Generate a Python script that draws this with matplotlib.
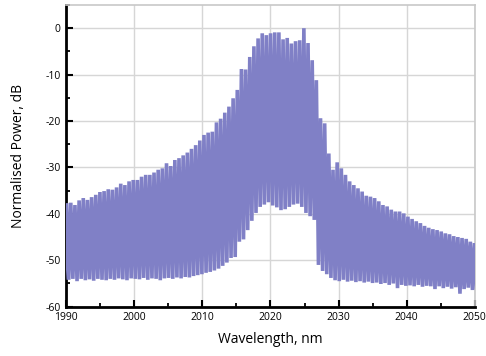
import numpy as np
import matplotlib
matplotlib.use("Agg")
import matplotlib.pyplot as plt
from matplotlib.ticker import MultipleLocator

# ---- data (one value per comb line) ----
first_peak_nm = 1990.05
peak_spacing_nm = 0.6115

peak_tops_db = [
    -37.7, -37.6, -38.1, -37.1, -36.6, -37.0, -36.4, -35.9, -35.3, -35.1,
    -34.7, -34.8, -34.3, -33.5, -33.8, -33.0, -32.7, -32.7, -32.0, -31.6,
    -31.6, -31.1, -30.5, -30.2, -29.1, -29.7, -28.4,
    -28.0, -27.4, -26.8, -26.0, -25.2, -24.2, -23.0, -22.5, -22.3,
    -20.3, -19.5, -18.2, -16.9, -15.1, -13.3, -8.8, -8.9,
    -6.2, -3.9, -2.2, -1.1, -1.5, -1.1, -0.9, -0.9, -2.4, -2.1,
    -3.3, -2.8, -2.6, 0.0, -3.2, -6.9, -11.2, -19.4, -20.5,
    -27.0, -30.5, -28.9, -30.2, -31.6, -33.0, -33.8, -34.5, -35.2, -36.1,
    -36.3, -36.6, -37.3, -38.1, -38.4, -39.1, -39.5, -39.5, -39.9,
    -40.6, -41.1, -41.6, -42.0, -42.6, -43.0, -43.3, -43.5, -43.8, -44.2,
    -44.4, -44.8, -45.0, -45.2, -45.4, -46.0, -46.3,
]

valley_db = [
    -54.2, -54.0, -54.5, -54.0, -54.3, -54.1, -54.4, -54.0, -54.2, -54.3,
    -54.0, -54.2, -53.9, -54.1, -54.3, -53.9, -54.0, -54.1, -53.8, -54.2, -53.9,
    -54.0, -54.3, -53.9, -53.8, -54.0, -53.7, -53.9, -53.6, -53.7, -53.4,
    -53.2, -53.0, -52.7, -52.5, -52.2, -51.8, -51.2, -50.5, -49.5, -49.3, -46.0,
    -45.5, -43.5, -41.5, -39.8, -38.5, -38.0, -37.5, -38.2, -38.6, -39.2,
    -39.0, -38.5, -38.0, -37.8, -38.5, -39.8, -40.5, -41.3,
    -51.0, -52.3, -53.0, -53.8, -54.3, -54.5, -54.2, -54.6, -54.4, -54.7,
    -54.5, -54.8, -54.6, -54.9, -54.8, -55.1, -54.9, -55.3, -55.0, -56.0,
    -55.3, -55.5, -55.4, -55.6, -55.3, -55.7, -55.5, -55.6, -56.2, -55.6,
    -56.0, -55.7, -56.1, -55.8, -57.2, -56.2, -55.9, -56.4, -56.3,
]

x_ticks = [1990, 2000, 2010, 2020, 2030, 2040, 2050]
y_ticks = [0, -10, -20, -30, -40, -50, -60]

# ---- build the zig-zag trace (peak, valley, peak, ...) ----
peak_wl = first_peak_nm + peak_spacing_nm * np.arange(len(peak_tops_db))
xs = [peak_wl[0] - peak_spacing_nm / 2]
ys = [valley_db[0]]
for w, t, v in zip(peak_wl, peak_tops_db, valley_db):
    xs += [w, w + peak_spacing_nm / 2]
    ys += [t, v]

plt.rcParams["axes.unicode_minus"] = False
plt.rcParams["font.family"] = ["Open Sans", "DejaVu Sans"]

fig = plt.figure(figsize=(4.86, 3.56), dpi=100)
ax = fig.add_axes([0.1364, 0.1385, 0.8403, 0.8475])

ax.plot(xs, ys, color="#8080c6", lw=2.6, solid_joinstyle="bevel",
        solid_capstyle="butt", zorder=3)

ax.set_xlim(1990, 2050)
ax.set_ylim(-60, 5)
ax.set_xticks(x_ticks)
ax.set_yticks(y_ticks)
ax.xaxis.set_minor_locator(MultipleLocator(5))
ax.yaxis.set_minor_locator(MultipleLocator(5))
ax.grid(True, which="major", color="#d6d6d6", lw=1.0, zorder=0)
ax.set_axisbelow(True)

for s in ("left", "bottom"):
    ax.spines[s].set_linewidth(2.0)
    ax.spines[s].set_color("black")
for s in ("top", "right"):
    ax.spines[s].set_linewidth(1.2)
    ax.spines[s].set_color("#c8c8c8")

ax.tick_params(which="major", direction="in", length=5, width=1.5,
               labelsize=7.5, color="black", pad=4)
ax.tick_params(which="minor", direction="in", length=3, width=1.3, color="black")
ax.tick_params(top=False, right=False, which="both")

ax.set_xlabel("Wavelength, nm", fontsize=10, labelpad=6)
ax.set_ylabel("Normalised Power, dB", fontsize=10, labelpad=14)

fig.savefig("out.png", dpi=100)
